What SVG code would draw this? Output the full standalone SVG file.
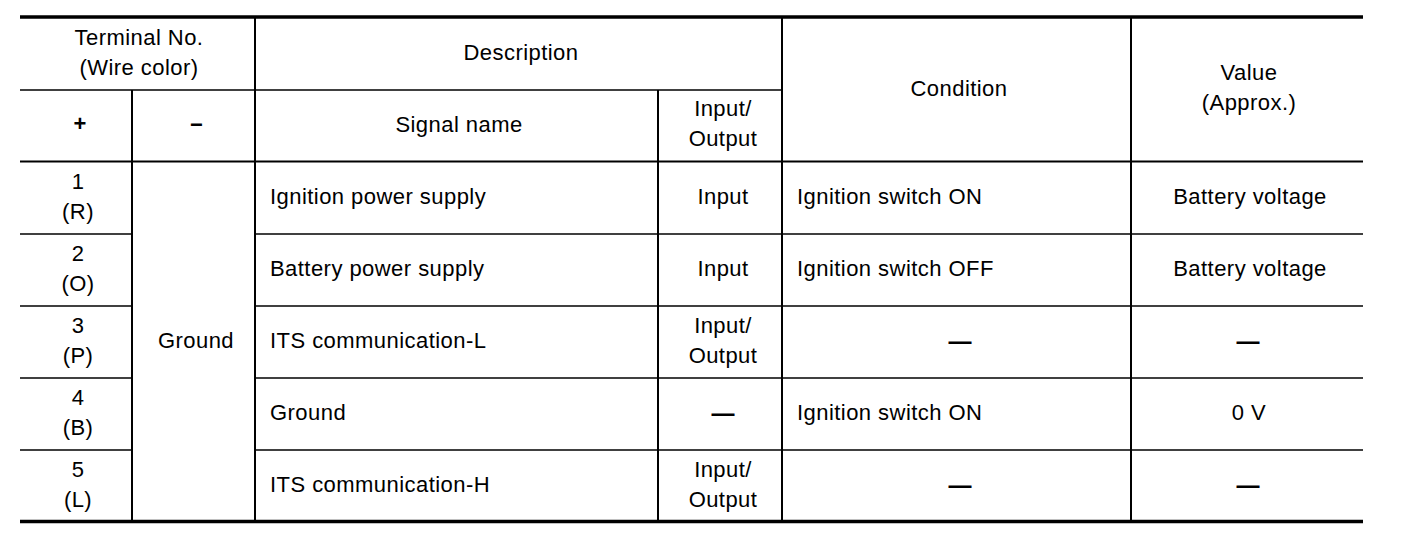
<svg xmlns="http://www.w3.org/2000/svg" width="1408" height="536" viewBox="0 0 1408 536">
<style>
text{font-family:"Liberation Sans",Arial,sans-serif;font-size:22px;letter-spacing:0.45px;fill:#000}
.c{text-anchor:middle}
.d{font-weight:bold;font-size:23px;letter-spacing:0}
.thick{stroke:#000;stroke-width:3.6;fill:none}
.thin{stroke:#000;stroke-width:1.6;fill:none}
.v{stroke:#000;stroke-width:2;fill:none}
</style>
<rect width="1408" height="536" fill="#fff"/>
<g id="grid">
<line class="thick" x1="20" y1="17" x2="1363" y2="17"/>
<line class="thick" x1="20" y1="521.5" x2="1363" y2="521.5"/>
<line class="thin" x1="20" y1="90" x2="782" y2="90"/>
<line class="v" x1="20" y1="161.5" x2="1363" y2="161.5"/>
<line class="thin" x1="20" y1="234" x2="132" y2="234"/>
<line class="thin" x1="255" y1="234" x2="1363" y2="234"/>
<line class="thin" x1="20" y1="306" x2="132" y2="306"/>
<line class="thin" x1="255" y1="306" x2="1363" y2="306"/>
<line class="thin" x1="20" y1="378" x2="132" y2="378"/>
<line class="thin" x1="255" y1="378" x2="1363" y2="378"/>
<line class="thin" x1="20" y1="450" x2="132" y2="450"/>
<line class="thin" x1="255" y1="450" x2="1363" y2="450"/>
<line class="v" x1="132" y1="90" x2="132" y2="521"/>
<line class="v" x1="255" y1="17" x2="255" y2="521"/>
<line class="v" x1="658" y1="90" x2="658" y2="521"/>
<line class="v" x1="782" y1="17" x2="782" y2="521"/>
<line class="v" x1="1131" y1="17" x2="1131" y2="521"/>
</g>
<g id="header">
<text class="c" x="139" y="45">Terminal No.</text>
<text class="c" x="139" y="75">(Wire color)</text>
<text class="c" x="521" y="60">Description</text>
<text class="c" x="959" y="96">Condition</text>
<text class="c" x="1249" y="80">Value</text>
<text class="c" x="1249" y="110">(Approx.)</text>
<text class="c" x="80" y="131" style="font-weight:bold;letter-spacing:0">+</text>
<text class="c" x="196.5" y="132" style="font-weight:bold;letter-spacing:0">−</text>
<text class="c" x="459" y="132">Signal name</text>
<text class="c" x="723" y="116">Input/</text>
<text class="c" x="723" y="146">Output</text>
</g>
<g id="ground">
<text class="c" x="196" y="348">Ground</text>
</g>
<g id="row1">
<text class="c" x="78" y="189">1</text>
<text class="c" x="78" y="219">(R)</text>
<text x="270" y="204">Ignition power supply</text>
<text class="c" x="723" y="204">Input</text>
<text x="797" y="204">Ignition switch ON</text>
<text class="c" x="1250" y="204">Battery voltage</text>
</g>
<g id="row2">
<text class="c" x="78" y="261">2</text>
<text class="c" x="78" y="291">(O)</text>
<text x="270" y="276">Battery power supply</text>
<text class="c" x="723" y="276">Input</text>
<text x="797" y="276">Ignition switch OFF</text>
<text class="c" x="1250" y="276">Battery voltage</text>
</g>
<g id="row3">
<text class="c" x="78" y="333">3</text>
<text class="c" x="78" y="363">(P)</text>
<text x="270" y="348">ITS communication-L</text>
<text class="c" x="723" y="333">Input/</text>
<text class="c" x="723" y="363">Output</text>
<text class="c d" x="960" y="349">—</text>
<text class="c d" x="1248" y="349">—</text>
</g>
<g id="row4">
<text class="c" x="78" y="405">4</text>
<text class="c" x="78" y="435">(B)</text>
<text x="270" y="420">Ground</text>
<text class="c d" x="723" y="421">—</text>
<text x="797" y="420">Ignition switch ON</text>
<text class="c" x="1249" y="420">0 V</text>
</g>
<g id="row5">
<text class="c" x="78" y="477">5</text>
<text class="c" x="78" y="507">(L)</text>
<text x="270" y="492">ITS communication-H</text>
<text class="c" x="723" y="477">Input/</text>
<text class="c" x="723" y="507">Output</text>
<text class="c d" x="960" y="493">—</text>
<text class="c d" x="1248" y="493">—</text>
</g>
</svg>
